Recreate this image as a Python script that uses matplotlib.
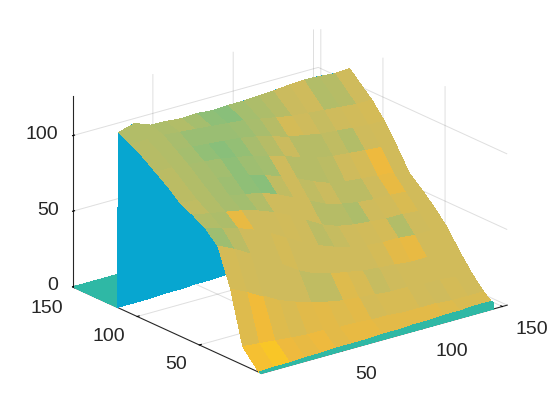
"""Поверхность рельефа с окраской по отдельной карте значений."""

import numpy as np
import matplotlib
matplotlib.use("Agg")
import matplotlib.pyplot as plt
from matplotlib.colors import LinearSegmentedColormap
from mpl_toolkits.mplot3d import proj3d

x_grid = [0, 10, 20, 30, 40, 50, 60, 70, 80, 90, 100, 110, 120, 130, 140, 150]
y_inner = [15, 25, 35, 45, 55, 65, 75, 85, 95, 105]
y_front = [2, 3, 3, 4, 4, 5, 5, 5, 6, 6, 7, 7, 8, 8, 9, 9]
y_back = [115, 115, 115, 116, 116, 117, 117, 118, 118, 119, 120, 120, 121, 122, 122, 123]

# высота: строки по y (y_front, y_inner, y_back), столбцы по x_grid
z_table = [
    [0, 0, 0, 0, 0, 0, 0, 0, 0, 0, 0, 0, 0, 0, 0, 0],
    [12, 11, 10, 9, 8, 8, 7, 7, 6, 6, 5, 5, 5, 4, 4, 4],
    [47, 42, 36, 30, 26, 23, 20, 18, 17, 16, 15, 15, 14, 14, 13, 13],
    [71, 66, 60, 54, 47, 40, 35, 32, 30, 28, 27, 26, 25, 25, 24, 24],
    [79, 76, 73, 69, 64, 58, 52, 47, 43, 40, 38, 37, 37, 36, 36, 36],
    [84, 82, 80, 78, 75, 71, 66, 60, 54, 50, 48, 47, 46, 46, 45, 45],
    [88, 87, 86, 84, 82, 80, 76, 71, 66, 61, 58, 56, 55, 55, 54, 53],
    [95, 94, 93, 92, 90, 88, 85, 81, 77, 72, 68, 66, 65, 64, 63, 60],
    [101, 101, 100, 99, 98, 96, 94, 91, 88, 84, 81, 79, 78, 77, 76, 74],
    [107, 107, 106, 105, 104, 103, 102, 100, 97, 94, 92, 90, 89, 88, 87, 87],
    [112, 112, 112, 111, 110, 109, 108, 107, 105, 103, 101, 100, 99, 98, 97, 97],
    [116, 119, 115, 114, 113, 113, 112, 112, 112, 112, 112, 113, 113, 112, 111, 111],
]

# значение цвета на гранях между строками z_table
c_table = [
    [0.90, 0.95, 0.84, 0.82, 0.84, 0.80, 0.82, 0.82, 0.80, 0.80, 0.80, 0.80, 0.78, 0.76, 0.76],
    [0.78, 0.86, 0.78, 0.76, 0.79, 0.80, 0.78, 0.80, 0.74, 0.75, 0.75, 0.73, 0.72, 0.74, 0.73],
    [0.74, 0.73, 0.72, 0.72, 0.72, 0.66, 0.66, 0.78, 0.75, 0.68, 0.72, 0.73, 0.73, 0.73, 0.73],
    [0.52, 0.64, 0.72, 0.72, 0.74, 0.72, 0.72, 0.72, 0.72, 0.72, 0.74, 0.80, 0.82, 0.73, 0.73],
    [0.60, 0.58, 0.82, 0.72, 0.72, 0.73, 0.72, 0.64, 0.68, 0.72, 0.73, 0.74, 0.60, 0.72, 0.73],
    [0.66, 0.60, 0.56, 0.54, 0.60, 0.72, 0.72, 0.72, 0.62, 0.62, 0.58, 0.72, 0.73, 0.76, 0.73],
    [0.64, 0.60, 0.56, 0.52, 0.46, 0.44, 0.66, 0.72, 0.66, 0.70, 0.64, 0.64, 0.72, 0.82, 0.73],
    [0.64, 0.60, 0.56, 0.54, 0.46, 0.52, 0.54, 0.72, 0.62, 0.62, 0.64, 0.72, 0.74, 0.84, 0.73],
    [0.62, 0.60, 0.55, 0.47, 0.44, 0.48, 0.56, 0.62, 0.70, 0.62, 0.62, 0.66, 0.60, 0.72, 0.73],
    [0.62, 0.60, 0.56, 0.50, 0.50, 0.50, 0.52, 0.56, 0.62, 0.74, 0.72, 0.68, 0.72, 0.73, 0.74],
    [0.60, 0.60, 0.58, 0.60, 0.55, 0.46, 0.44, 0.55, 0.58, 0.62, 0.70, 0.72, 0.60, 0.62, 0.72],
]
c_floor = 0.2
c_wall = 0.0

x_ticks = [50, 100, 150]
y_ticks = [50, 100, 150]
z_ticks = [0, 50, 100]

color_stops = ["#07A6D0", "#2FB8A5", "#8DBF78", "#CFBB5C", "#F0BA3C", "#FDCB1E"]
stop_levels = [0.0, 0.2, 0.45, 0.72, 0.85, 1.0]


def tick_label(ax, point, text, offset, ha):
    """Подпись деления со сдвигом в пикселях от его проекции на экран."""
    px, py, _ = proj3d.proj_transform(*point, ax.get_proj())
    ax.annotate(
        text, xy=(px, py), xycoords="data", xytext=offset, textcoords="offset pixels",
        fontsize=14, color="#262626", ha=ha, va="center", annotation_clip=False,
    )


def main():
    plt.rcParams["font.family"] = ["Liberation Sans", "DejaVu Sans"]

    x_lim = 153
    y_lim = 152
    n = len(x_grid)

    xs = np.tile(np.array(x_grid, dtype=float), (len(y_inner) + 5, 1))
    ys = np.vstack(
        [
            np.zeros(n),
            y_front,
            np.array([[v] * n for v in y_inner], dtype=float),
            y_back,
            np.array(y_back) + 1.0,
            np.full(n, float(y_lim)),
        ]
    )
    zs = np.vstack([np.zeros(n), np.array(z_table, dtype=float), np.zeros(n), np.zeros(n)])

    cvals = np.vstack(
        [
            np.full(n - 1, c_floor),
            np.array(c_table),
            np.full(n - 1, c_wall),
            np.full(n - 1, c_floor),
        ]
    )
    cmap = LinearSegmentedColormap.from_list("terrain_c", list(zip(stop_levels, color_stops)))

    fig = plt.figure(figsize=(5.6, 4.2), dpi=100)
    ax = fig.add_axes([0.0075, 0.0085, 1, 1], projection="3d", proj_type="ortho")
    ax.view_init(elev=20.9, azim=-127.9)
    ax.set_box_aspect((310, 306, 203), zoom=1.116)

    ax.plot_surface(
        xs, ys, zs, facecolors=cmap(cvals), shade=False,
        rstride=1, cstride=1, linewidth=0, antialiased=False,
    )

    ax.set_xlim(0, x_lim)
    ax.set_ylim(0, y_lim)
    ax.set_zlim(0, 126)
    ax.set_xticks(x_ticks)
    ax.set_yticks(y_ticks)
    ax.set_zticks(z_ticks)
    ax.set_xticklabels([])
    ax.set_yticklabels([])
    ax.set_zticklabels([])

    for axis in (ax.xaxis, ax.yaxis, ax.zaxis):
        axis.set_pane_color((1, 1, 1, 0))
        axis.pane.set_edgecolor((1, 1, 1, 0))
        axis.line.set_color("#262626")
        axis.line.set_linewidth(0.8)
        axis._axinfo["grid"].update(color=(0.15, 0.15, 0.15, 0.15), linewidth=0.7)
        axis._axinfo["tick"].update(inward_factor=0.0, outward_factor=0.1)

    # подписи делений стоят как в MATLAB: по правому или левому краю
    for v in x_ticks:
        tick_label(ax, (v, 0, 0), str(v), (13, -23), "left")
    for v in y_ticks:
        tick_label(ax, (0, v, 0), str(v), (-12, -20), "right")
    for v in z_ticks:
        tick_label(ax, (0, y_lim, v), str(v), (-14, 1), "right")

    fig.savefig("out.png", dpi=100)


if __name__ == "__main__":
    main()
